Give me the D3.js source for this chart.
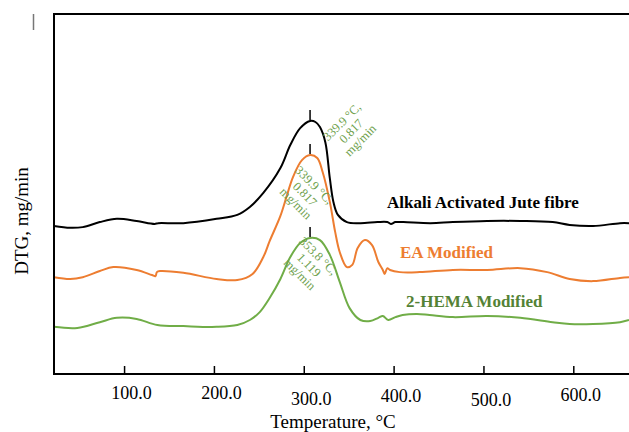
<!DOCTYPE html>
<html>
<head>
<meta charset="utf-8">
<script src="https://cdn.jsdelivr.net/npm/d3@7"></script>
<style>
  body { margin: 0; background: #fff; }
  svg { display: block; font-family: "Liberation Serif", "Times New Roman", serif; }
</style>
</head>
<body>
<div id="chart"><svg></svg></div>
<script>
const width = 629, height = 432;
const margin = { top: 14, right: 0, bottom: 58, left: 54 };

// temperature (°C) and DTG (offset, arbitrary units)
const alkaliT = [22, 40, 54, 73, 92, 114, 134, 138, 166, 203, 226, 240, 255, 274, 285, 296, 307, 313, 318, 324, 329, 333, 338, 348, 363, 382, 393, 397, 402, 411, 441, 466, 504, 541, 577, 596, 622, 652, 662];
const alkaliV = [0.411, 0.406, 0.408, 0.422, 0.431, 0.425, 0.417, 0.419, 0.419, 0.431, 0.442, 0.464, 0.503, 0.572, 0.636, 0.683, 0.703, 0.700, 0.686, 0.644, 0.544, 0.478, 0.442, 0.422, 0.419, 0.422, 0.422, 0.417, 0.422, 0.422, 0.419, 0.422, 0.425, 0.425, 0.422, 0.414, 0.411, 0.419, 0.419];

const eaT = [22, 40, 54, 73, 88, 114, 131, 135, 136.5, 140, 166, 203, 226, 243, 255, 262, 274, 281, 288, 298, 307, 315, 321, 329, 335, 340, 348, 354, 360, 368, 376, 383, 388, 390, 393, 396, 407, 429, 466, 504, 541, 571, 596, 622, 652, 662];
const eaV = [0.269, 0.264, 0.269, 0.286, 0.297, 0.289, 0.275, 0.272, 0.283, 0.286, 0.281, 0.264, 0.261, 0.278, 0.325, 0.369, 0.439, 0.494, 0.547, 0.594, 0.608, 0.600, 0.561, 0.478, 0.394, 0.339, 0.297, 0.303, 0.350, 0.372, 0.358, 0.311, 0.289, 0.278, 0.294, 0.289, 0.283, 0.283, 0.289, 0.289, 0.294, 0.283, 0.264, 0.258, 0.267, 0.269];

const hemaT = [22, 48, 73, 92, 114, 137, 166, 203, 226, 240, 251, 262, 274, 285, 296, 307, 318, 329, 340, 351, 363, 374, 383, 388, 394, 402, 410, 426, 440, 466, 504, 541, 577, 596, 622, 652, 662];
const hemaV = [0.131, 0.128, 0.144, 0.156, 0.153, 0.136, 0.133, 0.131, 0.136, 0.150, 0.172, 0.211, 0.264, 0.325, 0.364, 0.378, 0.372, 0.331, 0.256, 0.183, 0.150, 0.147, 0.156, 0.161, 0.150, 0.158, 0.164, 0.167, 0.164, 0.158, 0.161, 0.156, 0.144, 0.139, 0.139, 0.144, 0.150];

const seriesNames = ["Alkali Activated Jute fibre", "EA Modified", "2-HEMA Modified"];
const lineColors = ["#000000", "#ED7D31", "#70AD47"];
const labelColors = ["#000000", "#ED7D31", "#548235"];
const peakNotes = [
  ["339.9 °C,", "0.817", "mg/min"],
  ["339.9 °C,", "0.817", "mg/min"],
  ["353.8 °C,", "1.119", "mg/min"]
];
const xTicks = [100, 200, 300, 400, 500, 600];

const svg = d3.select("#chart svg").attr("width", width).attr("height", height);

const x = d3.scaleLinear().domain([22, 662]).range([margin.left, width - margin.right]);
const y = d3.scaleLinear().domain([0, 1]).range([height - margin.bottom, margin.top]);

const series = [
  alkaliT.map((t, i) => [t, alkaliV[i]]),
  eaT.map((t, i) => [t, eaV[i]]),
  hemaT.map((t, i) => [t, hemaV[i]])
];

const line = d3.line()
    .x(d => x(d[0]))
    .y(d => y(d[1]))
    .curve(d3.curveCatmullRom.alpha(0.5));

svg.selectAll(".curve")
   .data(series)
   .enter().append("path")
   .attr("class", "curve")
   .attr("d", line)
   .style("fill", "none")
   .style("stroke", (d, i) => lineColors[i])
   .style("stroke-width", 2);

// frame: top and left lines
svg.append("line")
   .attr("x1", margin.left - 1).attr("x2", width)
   .attr("y1", margin.top).attr("y2", margin.top)
   .style("stroke", "#000").style("stroke-width", 2);
svg.append("line")
   .attr("x1", margin.left).attr("x2", margin.left)
   .attr("y1", margin.top).attr("y2", height - margin.bottom)
   .style("stroke", "#000").style("stroke-width", 2);

// small stray mark at the top left
svg.append("line")
   .attr("x1", 33.5).attr("x2", 33.5)
   .attr("y1", 14).attr("y2", 30)
   .style("stroke", "#777").style("stroke-width", 1.5);

// x axis
const xAxis = svg.append("g")
   .attr("transform", `translate(0,${height - margin.bottom})`)
   .call(d3.axisBottom(x).tickValues(xTicks).tickSize(-8).tickFormat(d3.format(".1f")));
xAxis.select(".domain").attr("d", `M${margin.left - 1},0H${width}`).style("stroke-width", 2);
xAxis.selectAll(".tick line").style("stroke-width", 1.5);
const labelShift = [-3, -3, 3, 0, 4, -1];
xAxis.selectAll(".tick text")
   .attr("y", 0)
   .attr("dy", 0)
   .attr("transform", (d, i) => `translate(7,${28 + labelShift[i]})`)
   .style("font-family", "Liberation Serif, serif")
   .style("font-size", "18px")
   .style("fill", "#000");

svg.append("text")
   .attr("x", 333).attr("y", 428)
   .attr("text-anchor", "middle")
   .style("font-size", "19px")
   .text("Temperature, °C");

svg.append("text")
   .attr("transform", "translate(28,221) rotate(-90)")
   .attr("text-anchor", "middle")
   .style("font-size", "19px")
   .text("DTG, mg/min");

// peak ticks and notes
const peaks = series.map(s => d3.greatest(s, d => d[1]));
svg.selectAll(".peak")
   .data(peaks)
   .enter().append("line")
   .attr("x1", d => x(d[0])).attr("x2", d => x(d[0]))
   .attr("y1", d => y(d[1]) - 11).attr("y2", d => y(d[1]) - 1)
   .style("stroke", "#000").style("stroke-width", 1.5);

const noteLayout = [
  { dx: 32, dy: 1, rot: -45 },
  { dx: 4, dy: 30, rot: 45 },
  { dx: 8, dy: 18, rot: 45 }
];
peakNotes.forEach((lines, i) => {
  const p = peaks[i], L = noteLayout[i];
  const g = svg.append("g")
     .attr("transform", `translate(${x(p[0]) + L.dx},${y(p[1]) + L.dy}) rotate(${L.rot})`);
  g.selectAll("text")
   .data(lines)
   .enter().append("text")
   .attr("y", (d, k) => k * 13)
   .attr("text-anchor", "middle")
   .attr("dominant-baseline", "central")
   .style("font-size", "12.5px")
   .style("fill", "#6E9F4C")
   .text(d => d);
});

// series labels
const labelPos = [[387, 208], [400, 258], [406, 307]];
svg.selectAll(".slabel")
   .data(seriesNames)
   .enter().append("text")
   .attr("class", "slabel")
   .attr("x", (d, i) => labelPos[i][0])
   .attr("y", (d, i) => labelPos[i][1])
   .style("font-size", "17px")
   .style("font-weight", "bold")
   .style("fill", (d, i) => labelColors[i])
   .text(d => d);
</script>
</body>
</html>
